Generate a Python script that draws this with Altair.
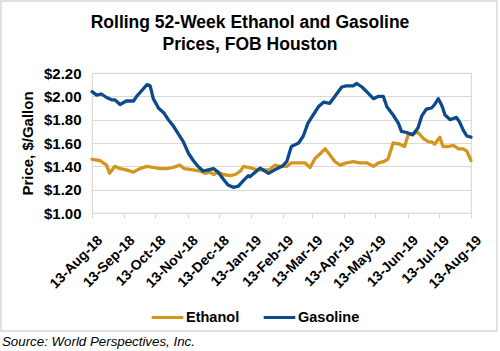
import altair as alt
import pandas as pd

# Day offsets from 13-Aug-18 and prices ($/gal)
gas_days = [0, 4.5, 9, 14, 19, 22, 27, 33, 40, 43, 48, 53, 56, 59, 64, 69, 73.5, 78, 83, 88, 93, 97.5,
            102, 107, 112, 117, 121.5, 126.5, 131, 136, 141, 146, 150.5, 152, 162, 170, 176, 183, 187.5,
            192, 199, 203.5, 208, 213, 218, 223, 229, 234, 240.5, 245, 251.5, 255, 260, 264.5, 271, 276,
            280.5, 284, 290, 295, 298, 303, 309, 314, 317.5, 322, 327, 330, 333.5, 337, 340, 345, 348,
            351, 354, 357.5, 361, 365]
gas_price = [2.04, 2.01, 2.02, 1.99, 1.97, 1.97, 1.93, 1.96, 1.96, 2.00, 2.05, 2.10, 2.09, 1.98, 1.90,
             1.86, 1.80, 1.75, 1.68, 1.61, 1.51, 1.45, 1.40, 1.36, 1.37, 1.38, 1.35, 1.29, 1.24, 1.22,
             1.23, 1.28, 1.32, 1.31, 1.385, 1.34, 1.37, 1.40, 1.44, 1.57, 1.60, 1.66, 1.77, 1.84, 1.91,
             1.95, 1.94, 2.00, 2.08, 2.09, 2.09, 2.11, 2.08, 2.04, 1.98, 2.00, 2.00, 1.91, 1.84, 1.77,
             1.70, 1.69, 1.67, 1.73, 1.83, 1.89, 1.90, 1.93, 1.98, 1.92, 1.84, 1.80, 1.81, 1.82, 1.78,
             1.71, 1.66, 1.65]

eth_days = [0, 7.5, 14, 17, 22, 27, 33, 40, 46, 53, 59, 65.5, 72, 78, 84.5, 89, 97.5, 104, 109, 114,
            117, 121.5, 126.5, 133, 138, 143, 146, 150.5, 152, 158.5, 165, 171, 176, 181, 187.5, 192,
            199, 205, 210, 215, 220, 224.5, 229, 234, 239, 245, 251.5, 258, 264.5, 271, 276, 280.5, 285,
            290, 296.5, 301, 304.5, 309, 314, 319, 324, 327, 330, 335, 338, 343, 348, 353, 357.5, 361, 365]
eth_price = [1.46, 1.45, 1.41, 1.34, 1.40, 1.38, 1.37, 1.35, 1.38, 1.40, 1.39, 1.38, 1.38, 1.39, 1.41,
             1.38, 1.37, 1.36, 1.34, 1.35, 1.33, 1.35, 1.33, 1.32, 1.33, 1.36, 1.40, 1.39, 1.39, 1.37,
             1.37, 1.37, 1.41, 1.40, 1.40, 1.43, 1.43, 1.43, 1.39, 1.47, 1.51, 1.55, 1.50, 1.44, 1.41,
             1.43, 1.44, 1.43, 1.43, 1.40, 1.43, 1.44, 1.46, 1.60, 1.59, 1.57, 1.67, 1.68, 1.69, 1.64,
             1.61, 1.61, 1.59, 1.65, 1.57, 1.57, 1.58, 1.55, 1.55, 1.53, 1.45]

series_names = ["Ethanol", "Gasoline"]
series_colors = ["#D4951F", "#0D4A8B"]
y_ticks = [1.0, 1.2, 1.4, 1.6, 1.8, 2.0, 2.2]
tick_months = [(2018, 8), (2018, 9), (2018, 10), (2018, 11), (2018, 12), (2019, 1), (2019, 2),
               (2019, 3), (2019, 4), (2019, 5), (2019, 6), (2019, 7), (2019, 8)]

start = pd.Timestamp("2018-08-13")
df = pd.concat([
    pd.DataFrame({"date": start + pd.to_timedelta(eth_days, unit="D"), "price": eth_price, "series": "Ethanol"}),
    pd.DataFrame({"date": start + pd.to_timedelta(gas_days, unit="D"), "price": gas_price, "series": "Gasoline"}),
])

FONT = "Liberation Sans"
W, H = 379, 140
PL, PT = 92, 73

lines = alt.Chart(df).mark_line(strokeWidth=3.3, strokeCap="round", strokeJoin="round").encode(
    x=alt.X("date:T",
            scale=alt.Scale(domain=[alt.DateTime(year=2018, month=8, date=13),
                                    alt.DateTime(year=2019, month=8, date=13)]),
            axis=alt.Axis(values=[alt.DateTime(year=y, month=m, date=13) for y, m in tick_months],
                          format="%d-%b-%y", labelAngle=-45, title=None, grid=False,
                          labelOverlap=False, labelBound=False, labelFlush=False,
                          labelFont=FONT, labelFontSize=14, labelFontWeight="bold", labelColor="#000",
                          domainColor="#d9d9d9", tickColor="#d9d9d9", tickSize=5,
                          labelPadding=15, labelOffset=3)),
    y=alt.Y("price:Q", scale=alt.Scale(domain=[1.0, 2.2]),
            axis=alt.Axis(values=y_ticks, format="$.2f", title="Price, $/Gallon",
                          titleFont=FONT, titleFontSize=15, titleFontWeight="bold", titleColor="#000",
                          titlePadding=8,
                          labelFont=FONT, labelFontSize=15, labelFontWeight="bold", labelColor="#000",
                          gridColor="#d9d9d9", domain=False, ticks=False, labelPadding=11)),
    color=alt.Color("series:N", scale=alt.Scale(domain=series_names, range=series_colors),
                    legend=alt.Legend(title=None, orient="none", direction="horizontal",
                                      legendX=58, legendY=227, symbolType="stroke",
                                      symbolStrokeWidth=3, symbolSize=1000,
                                      labelFont=FONT, labelFontSize=14.5, labelFontWeight="bold",
                                      labelColor="#000", columnPadding=17, labelOffset=1)),
)

one = pd.DataFrame({"a": [0]})
border = alt.Chart(one).mark_rect(fillOpacity=0, stroke="#d9d9d9", strokeWidth=1.5).encode(
    x=alt.value(1 - PL), x2=alt.value(497 - PL), y=alt.value(1 - PT), y2=alt.value(331 - PT))

title1 = alt.Chart(one).mark_text(text="Rolling 52-Week Ethanol and Gasoline", font=FONT, fontSize=17.5,
                                  fontWeight="bold", color="#000", align="center", baseline="alphabetic").encode(
    x=alt.value(250 - PL), y=alt.value(28 - PT))
title2 = alt.Chart(one).mark_text(text="Prices, FOB Houston", font=FONT, fontSize=17.5,
                                  fontWeight="bold", color="#000", align="center", baseline="alphabetic").encode(
    x=alt.value(250 - PL), y=alt.value(50 - PT))
source = alt.Chart(one).mark_text(text="Source: World Perspectives, Inc.", font=FONT, fontSize=13.3,
                                  fontStyle="italic", color="#000", align="left", baseline="alphabetic").encode(
    x=alt.value(2 - PL), y=alt.value(346 - PT))

chart = alt.layer(border, lines, title1, title2, source).properties(
    width=W, height=H,
    autosize=alt.AutoSizeParams(type="none"),
    padding={"left": PL, "top": PT, "right": 500 - PL - W, "bottom": 351 - PT - H},
    background="#ffffff",
).configure_view(stroke="#d9d9d9", strokeWidth=1.2)

chart.save("out.html", embed_options={"renderer": "svg", "actions": False})
